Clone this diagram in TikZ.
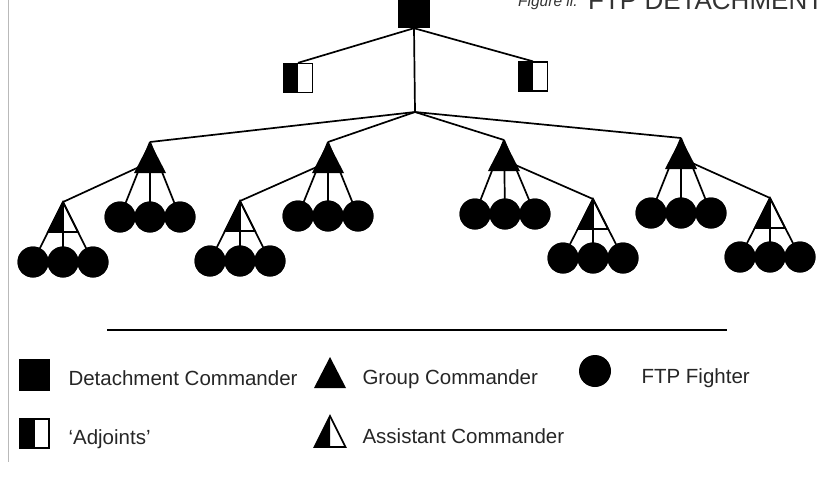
\documentclass[tikz,border=0pt]{standalone}
\usepackage{fontspec}
\setmainfont{Liberation Sans}
\begin{document}
\begin{tikzpicture}[x=1pt,y=-1pt,
  conn/.style={line width=1.7pt,black},
  fighter/.style={circle,fill=black,minimum size=31pt,inner sep=0pt},
  cmdsq/.style={rectangle,fill=black,minimum width=32pt,minimum height=32pt,inner sep=0pt},
  adjsq/.style={rectangle,draw=black,line width=1.3pt,fill=white,minimum width=29pt,minimum height=29pt,inner sep=0pt,
    path picture={\fill[black] (path picture bounding box.south west) rectangle (path picture bounding box.north);}},
  legtext/.style={anchor=base west,font=\fontsize{20.5}{24}\selectfont,text=black!85},
]
\useasboundingbox (0,0) rectangle (834,477);
\clip (0,0) rectangle (834,477);
% page edge line
\draw[gray!55,line width=1pt] (8,-2) -- (8,462);
% title (cut at top)
\node[anchor=base west,inner sep=0pt,font=\fontsize{15.5}{18}\selectfont\itshape,text=black!80] (tsmall) at (518,6) {Figure ii.};
\node[anchor=base west,inner sep=0pt,font=\fontsize{26}{30}\selectfont,text=black!80] (tbig) at (588,9) {FTP DETACHMENT};

% command nodes
\node[cmdsq] (top) at (414,12) {};
\node[adjsq] (adjL) at (298,78) {};
\node[adjsq] (adjR) at (533,76.5) {};
\coordinate (hub) at (415,112);
\coordinate (g1) at (150,142);
\coordinate (g2) at (328,142);
\coordinate (g3) at (504,140);
\coordinate (g4) at (681,138);
\coordinate (g1c) at (150,162);
\coordinate (g2c) at (328,162);
\coordinate (g3c) at (504,160);
\coordinate (g4c) at (681,158);
\coordinate (a1) at (63,202);
\coordinate (a2) at (240,201);
\coordinate (a3) at (593,199);
\coordinate (a4) at (770,198);

% fighters
\foreach \n/\x/\y in {g1/120/217, g2/298/216, g3/475/214, g4/651/213,
                      a1/33/262, a2/210/261, a3/563/258, a4/740/257}{
  \node[fighter] (\n f1) at (\x,\y) {};
  \node[fighter] (\n f2) at (\x+30,\y) {};
  \node[fighter] (\n f3) at (\x+60,\y) {};
}

% connectors
\draw[conn] (top.south) -- (adjL.north);
\draw[conn] (top.south) -- (adjR.north);
\draw[conn] (top.south) -- (hub);
\foreach \g in {g1,g2,g3,g4}{\draw[conn] (hub) -- (\g);}
\draw[conn] (g1c) -- (a1);
\draw[conn] (g2c) -- (a2);
\draw[conn] (g3c) -- (a3);
\draw[conn] (g4c) -- (a4);
\foreach \n in {g1,g2,g3,g4,a1,a2,a3,a4}{
  \draw[conn] (\n) -- (\n f1.center);
  \draw[conn] (\n) -- (\n f2.center);
  \draw[conn] (\n) -- (\n f3.center);
}
% redraw fighters on top of lines
\foreach \n in {g1,g2,g3,g4,a1,a2,a3,a4}{
  \fill (\n f1) circle (15.5pt);
  \fill (\n f2) circle (15.5pt);
  \fill (\n f3) circle (15.5pt);
}
% group commander triangles
\foreach \g in {g1,g2,g3,g4}{
  \fill[black] (\g) -- ++(-16,31) -- ++(32,0) -- cycle;
}
% assistant commander triangles
\foreach \a in {a1,a2,a3,a4}{
  \fill[black] (\a) -- ++(-15,30) -- ++(15,0) -- cycle;
  \draw[conn,line join=miter] (\a) -- ++(-15,30) -- ++(30,0) -- cycle;
}

% legend
\coordinate (ll) at (107,330);
\coordinate (lr) at (727,330);
\draw[conn] (ll) -- (lr);
\node[cmdsq,minimum width=31pt] (ldet) at (34.5,375) {};
\node[legtext] (tdet) at (65,385) {Detachment Commander};
\coordinate (lgc) at (330,357);
\fill[black] (lgc) -- ++(-16,31) -- ++(32,0) -- cycle;
\node[legtext] (tgc) at (359,384) {Group Commander};
\node[circle,fill=black,minimum width=29pt,minimum height=32pt,inner sep=0pt] (lftp) at (595,371) {};
\node[legtext] (tftp) at (638,383) {FTP Fighter};
\node[adjsq] (ladj) at (34.5,433.5) {};
\node[legtext] (tadj) at (65,444) {`Adjoints'};
\coordinate (lac) at (330,416);
\fill[black] (lac) -- ++(-15.5,31) -- ++(15.5,0) -- cycle;
\draw[conn,line join=miter] (lac) -- ++(-15.5,31) -- ++(31,0) -- cycle;
\node[legtext] (tac) at (359,443) {Assistant Commander};
\end{tikzpicture}
\end{document}
